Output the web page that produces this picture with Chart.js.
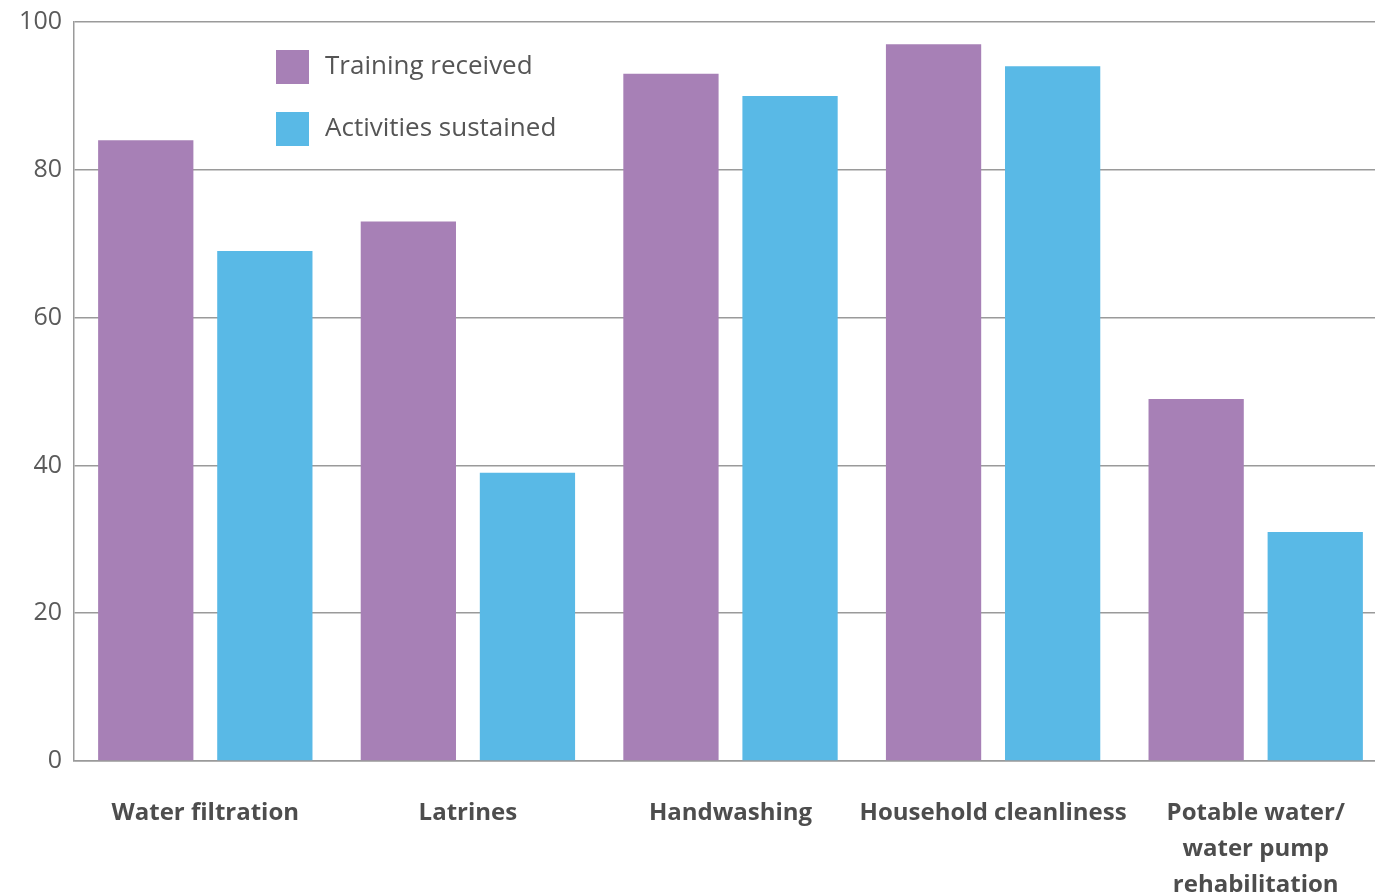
<!DOCTYPE html>
<html>
<head>
<meta charset="utf-8">
<script src="https://cdn.jsdelivr.net/npm/chart.js@4.4.1/dist/chart.umd.min.js"></script>
<style>
  html, body { margin: 0; padding: 0; background: #ffffff; overflow: hidden; }
  #wrap { position: relative; width: 1387px; height: 892px; }
</style>
</head>
<body>
<div id="wrap"><canvas id="c"></canvas></div>
<script>
const categories = [
  'Water filtration',
  'Latrines',
  'Handwashing',
  'Household cleanliness',
  ['Potable water/', 'water pump', 'rehabilitation']
];
const seriesNames = ['Training received', 'Activities sustained'];
const trainingReceived = [84, 73, 93, 97, 49];
const activitiesSustained = [69, 39, 90, 94, 31];
const yTicks = [0, 20, 40, 60, 80, 100];

const PURPLE = '#a780b6';
const BLUE = '#59b9e6';
const GRID = '#9a9a9a';
const FONT = "'Open Sans', sans-serif";

const legendPlugin = {
  id: 'insideLegend',
  afterDraw(chart) {
    const ctx = chart.ctx;
    const a = chart.chartArea;
    ctx.save();
    chart.data.datasets.forEach((ds, i) => {
      const bx = a.left + 202;
      const by = a.top + 28 + i * 62;
      ctx.fillStyle = ds.backgroundColor;
      ctx.fillRect(bx, by, 33, 34);
      ctx.fillStyle = '#555555';
      ctx.font = "26px " + FONT;
      ctx.textAlign = 'left';
      ctx.textBaseline = 'middle';
      ctx.fillText(ds.label, bx + 49, by + 17);
    });
    ctx.restore();
  }
};

new Chart(document.getElementById('c'), {
  type: 'bar',
  data: {
    labels: categories,
    datasets: [
      { label: seriesNames[0], data: trainingReceived, backgroundColor: PURPLE },
      { label: seriesNames[1], data: activitiesSustained, backgroundColor: BLUE }
    ]
  },
  options: {
    responsive: true,
    maintainAspectRatio: false,
    animation: false,
    categoryPercentage: 0.907,
    barPercentage: 0.8,
    layout: { padding: { top: 22, right: 0, bottom: 0, left: 0 } },
    plugins: {
      legend: { display: false },
      tooltip: { enabled: false }
    },
    scales: {
      x: {
        grid: { display: false, drawTicks: false },
        border: { display: true, color: GRID, width: 1.5 },
        ticks: {
          color: '#4d4d4d',
          font: { family: FONT, size: 24, weight: '700', lineHeight: 1.5 },
          padding: 34,
          maxRotation: 0,
          autoSkip: false
        },
        afterFit(s) { s.height = 131; s.paddingLeft = 0; s.paddingRight = 0; }
      },
      y: {
        min: 0,
        max: 100,
        afterBuildTicks(s) { s.ticks = yTicks.map(v => ({ value: v })); },
        grid: { color: GRID, lineWidth: 1.5, drawTicks: false },
        border: { display: true, color: GRID, width: 1.5 },
        ticks: {
          color: '#5a5a5a',
          font: { family: FONT, size: 25 },
          padding: 12
        },
        afterFit(s) { s.width = 74; s.paddingTop = 0; s.paddingBottom = 0; }
      }
    }
  },
  plugins: [legendPlugin]
});
</script>
</body>
</html>
